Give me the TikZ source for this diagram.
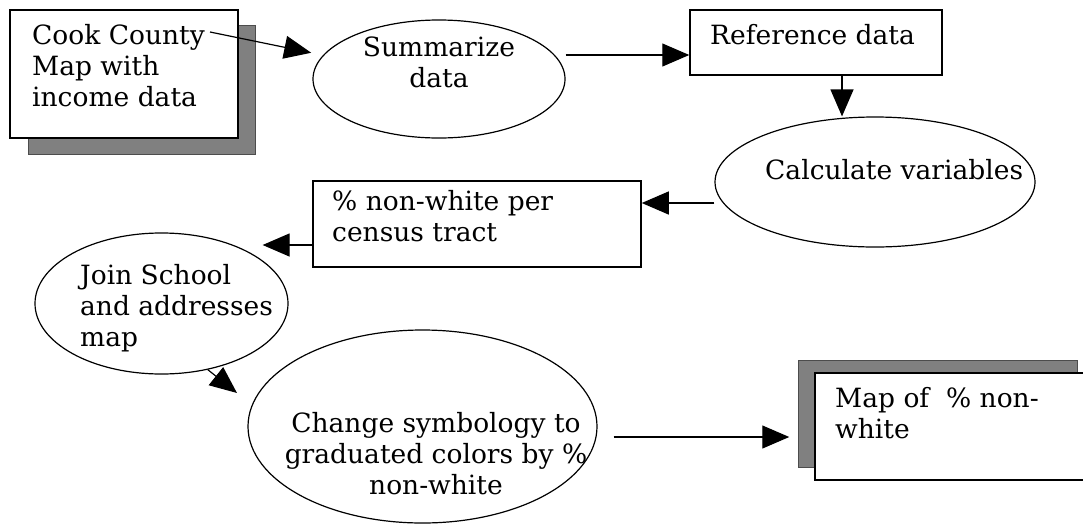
\documentclass[tikz,border=0pt]{standalone}
\usepackage{fontspec}
\setmainfont{DejaVu Serif}
\usetikzlibrary{shapes.geometric,arrows.meta}
\definecolor{ombra}{gray}{0.5}

\begin{document}
\begin{tikzpicture}[x=1pt,y=-1pt,
    box/.style={draw,line width=1.5pt,fill=white,inner sep=0pt},
    oval/.style={draw,ellipse,line width=1.2pt,inner sep=0pt},
    shadowfill/.style={fill=ombra,draw=black!70,line width=0.6pt},
    txt/.style={inner sep=0pt,align=left,font=\fontsize{26.5}{31}\selectfont},
    flow/.style={line width=1.2pt,-{Triangle[length=27pt,width=23pt]}}]
    \useasboundingbox (0,0) rectangle (1083,525);

    % riga in alto
    \draw[shadowfill] (28,25) rectangle (255,154);
    \node[box,minimum width=228,minimum height=128] (cook) at (124,74) {};
    \node[txt,anchor=north west] (cooktext) at (32,24) {Cook County\\Map with\\income data};
    \node[oval,minimum width=252,minimum height=118] (summarize) at (439,79) {};
    \node[txt,align=center,anchor=north] (summarizetext) at (439,37) {Summarize\\data};
    \node[box,minimum width=252,minimum height=65] (refdata) at (816,42.5) {};
    \node[txt,anchor=north west] (refdatatext) at (710,24) {Reference data};
    \node[oval,minimum width=320,minimum height=130] (calc) at (875,182) {};
    \node[txt,anchor=north west] (calctext) at (765,159) {Calculate variables};

    % riga centrale
    \node[box,minimum width=328,minimum height=86] (pct) at (477,224) {};
    \node[txt,anchor=north west] (pcttext) at (332,190) {\% non-white per\\census tract};
    \node[oval,minimum width=253,minimum height=141] (join) at (161.5,303.5) {};
    \node[txt,anchor=north west] (jointext) at (80,264) {Join School\\and addresses\\map};

    % riga in basso
    \node[oval,minimum width=349,minimum height=193] (symb) at (422.5,426.5) {};
    \node[txt,align=center,anchor=north] (symbtext) at (436,412) {Change symbology to\\graduated colors by \%\hspace*{42pt}\\non-white};
    \draw[shadowfill] (798,360) rectangle (1077,467);
    \node[box,minimum width=280,minimum height=107] (mapout) at (955,426.5) {};
    \node[txt,anchor=north west] (mapouttext) at (835,387) {Map of\ \ \% non-\\white};

    % frecce
    \coordinate (cookout) at (210,32);
    \coordinate (symbin) at (237,393);
    \draw[flow,shorten >=12pt] (cookout) -- (summarize);
    \draw[flow] ([yshift=-12.5pt]refdata.west -| summarize.east) -- ([yshift=-12.5pt]refdata.west);
    \draw[flow] ([xshift=26pt]refdata.south) -- ([xshift=26pt]refdata.south |- calc.north);
    \draw[flow] ([yshift=-21pt]calc.west) -- ([yshift=-21pt]calc.west -| pct.east);
    \draw[flow,shorten >=-26pt] ([yshift=-21pt]pct.west) -- ([yshift=-21pt]pct.west -| join.east);
    \draw[flow] (join.-55) -- (symbin);
    \draw[flow,shorten <=16pt,shorten >=25pt] ([yshift=-10.5pt]symb.east) -- ([yshift=-10.5pt]symb.east -| mapout.west);
\end{tikzpicture}
\end{document}
